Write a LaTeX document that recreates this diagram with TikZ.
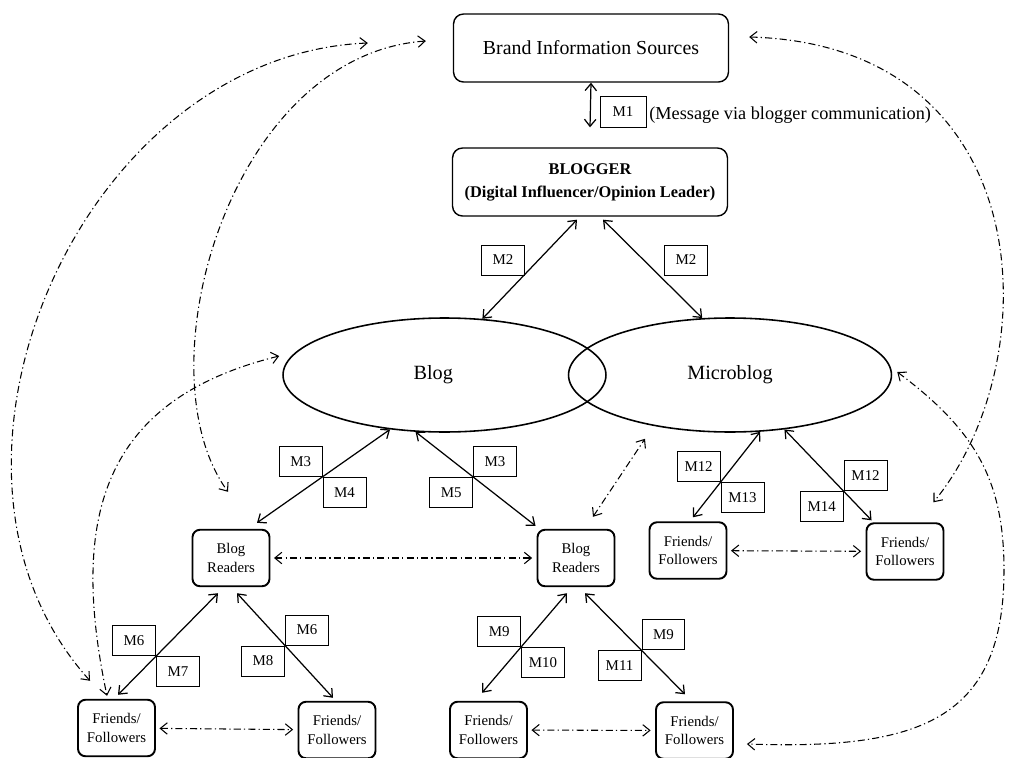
\documentclass[tikz,border=0pt]{standalone}
\usepackage{fontspec}
\setmainfont{Liberation Serif}
\usetikzlibrary{shapes.geometric,arrows.meta,calc,positioning}

\begin{document}
\begin{tikzpicture}[x=0.02cm, y=-0.02cm,
    bigbox/.style={rectangle, rounded corners=0.2cm, draw, line width=0.8pt,
                   minimum width=5.5cm, minimum height=1.36cm},
    smallbox/.style={rectangle, rounded corners=0.15cm, draw, line width=1.1pt,
                     minimum width=1.54cm, minimum height=1.13cm, align=center,
                     font=\fontsize{8.4}{10.5}\selectfont},
    oval/.style={ellipse, draw, line width=0.9pt, minimum width=6.46cm,
                 minimum height=2.28cm, inner sep=0pt, font=\fontsize{11.5}{13}\selectfont},
    msg/.style={rectangle, draw, line width=0.5pt, minimum width=0.86cm,
                minimum height=0.6cm, inner sep=0pt, font=\fontsize{8.5}{10}\selectfont},
    link/.style={<->, >={Straight Barb[length=4pt,width=6.5pt]}, line width=0.7pt},
    flow/.style={<->, >={Straight Barb[length=4pt,width=6.5pt]}, line width=0.6pt,
                 dash pattern=on 4pt off 1.8pt on 0.7pt off 1.8pt}
]
    \useasboundingbox (0,0) rectangle (1009,758);

    % Sources and blogger
    \node[bigbox, font=\fontsize{11.3}{13}\selectfont] (brand) at (591,48) {Brand Information Sources};
    \node[bigbox, align=center, font=\fontsize{9.3}{13}\selectfont\bfseries] (blogger) at (590,182)
        {BLOGGER\\(Digital Influencer/Opinion Leader)};
    \node[msg, minimum width=0.92cm, minimum height=0.62cm] (m1) at (623,112) {M1};
    \node[anchor=west, inner sep=0pt, font=\fontsize{10.4}{12}\selectfont] (m1text) at (649,115)
        {(Message via blogger communication)};

    % Platforms
    \node[oval] (blog) at (444.5,375) {\kern-0.45cm Blog};
    \node[oval] (microblog) at (730,375) {Microblog};

    % Readers and followers
    \node[smallbox] (readersA) at (231,558) {Blog\\Readers};
    \node[smallbox] (readersB) at (576,558) {Blog\\Readers};
    \node[smallbox] (friendsM1) at (688,550.5) {Friends/\\Followers};
    \node[smallbox] (friendsM2) at (905,551.5) {Friends/\\Followers};
    \node[smallbox] (friendsA1) at (116.5,728) {Friends/\\Followers};
    \node[smallbox] (friendsA2) at (337,730) {Friends/\\Followers};
    \node[smallbox] (friendsB1) at (488.5,730) {Friends/\\Followers};
    \node[smallbox] (friendsB2) at (694.5,730.5) {Friends/\\Followers};

    % Messages
    \draw[link] (brand.south) -- ($(blogger.north)+(0,-20)$);
    \draw[link] ($(blogger.south)+(-13,3)$) -- (blog.56);
    \draw[link] ($(blogger.south)+(13,3)$) -- (microblog.116);
    \node[msg] (m2a) at (503,260) {M2};
    \node[msg] (m2b) at (686,260) {M2};

    \draw[link] (blog.225) -- coordinate[pos=0.507] (c3a) ($(readersA.north)+(26,-6)$);
    \node[msg, anchor=south east] (m3a) at (c3a) {M3};
    \node[msg, anchor=north west] (m4) at (c3a) {M4};
    \draw[link] (blog.243) -- coordinate[pos=0.48] (c3b) ($(readersB.north west)+(-1,-3)$);
    \node[msg, anchor=south west] (m3b) at (c3b) {M3};
    \node[msg, anchor=north east] (m5) at (c3b) {M5};

    \draw[link] (microblog.-62) -- coordinate[pos=0.59] (c12a) ($(friendsM1.north)+(5,-4)$);
    \node[msg, anchor=south east] (m12a) at (c12a) {M12};
    \node[msg, anchor=north west] (m13) at (c12a) {M13};
    \draw[link] (microblog.-45) -- coordinate[pos=0.68] (c12b) ($(friendsM2.north west)+(6,-2)$);
    \node[msg, anchor=south west] (m12b) at (c12b) {M12};
    \node[msg, anchor=north east] (m14) at (c12b) {M14};

    \draw[link] ($(readersA.south)+(-13,6)$) -- coordinate[pos=0.62] (c6a) ($(friendsA1.north)+(1.5,-4)$);
    \node[msg, anchor=south east] (m6a) at (c6a) {M6};
    \node[msg, anchor=north west] (m7) at (c6a) {M7};
    \draw[link] ($(readersA.south)+(6,6)$) -- coordinate[pos=0.5] (c6b) ($(friendsA2.north)+(-4,-3)$);
    \node[msg, anchor=south west] (m6b) at (c6b) {M6};
    \node[msg, anchor=north east] (m8) at (c6b) {M8};

    \draw[link] ($(readersB.south)+(-9,6)$) -- coordinate[pos=0.54] (c9a) ($(friendsB1.north)+(-6.5,-8)$);
    \node[msg, anchor=south east] (m9a) at (c9a) {M9};
    \node[msg, anchor=north west] (m10) at (c9a) {M10};
    \draw[link] ($(readersB.south)+(9,6)$) -- coordinate[pos=0.565] (c9b) ($(friendsB2.north)+(-9.5,-7)$);
    \node[msg, anchor=south west] (m9b) at (c9b) {M9};
    \node[msg, anchor=north east] (m11) at (c9b) {M11};

    % Word of mouth between peers
    \foreach \a/\b in {readersA/readersB, friendsM1/friendsM2, friendsA1/friendsA2, friendsB1/friendsB2}
        \draw[flow, shorten <=2pt, shorten >=2.5pt] (\a) -- (\b);
    \draw[flow] ($(readersB.north)+(17,-12)$) -- ($(microblog.south)+(-85,6)$);

    % Feedback loops
    \coordinate (rightbend) at (1004,570);
    \draw[flow] ($(friendsA1.north west)+(13,-18)$) .. controls (-100,470) and (80,55) .. ($(brand.west)+(-85,-5)$);
    \draw[flow] ($(brand.west)+(-27,-7)$) .. controls (230,55) and (140,370) .. ($(readersA.north)+(-3,-37)$);
    \draw[flow] ($(blog.west)+(-3,-19)$) .. controls (100,400) and (70,520) .. ($(friendsA1.north)+(-9.5,-3)$);
    \draw[flow] ($(brand.east)+(20,-11)$) .. controls (1040,45) and (1050,360) .. ($(friendsM2.north east)+(-11,-20)$);
    \draw[flow] ($(microblog.east)+(5,-3)$) .. controls (975,430) and (1004,480) .. (rightbend)
        .. controls (1004,720) and (920,750) .. ($(friendsB2.east)+(13,13.5)$);
\end{tikzpicture}
\end{document}
